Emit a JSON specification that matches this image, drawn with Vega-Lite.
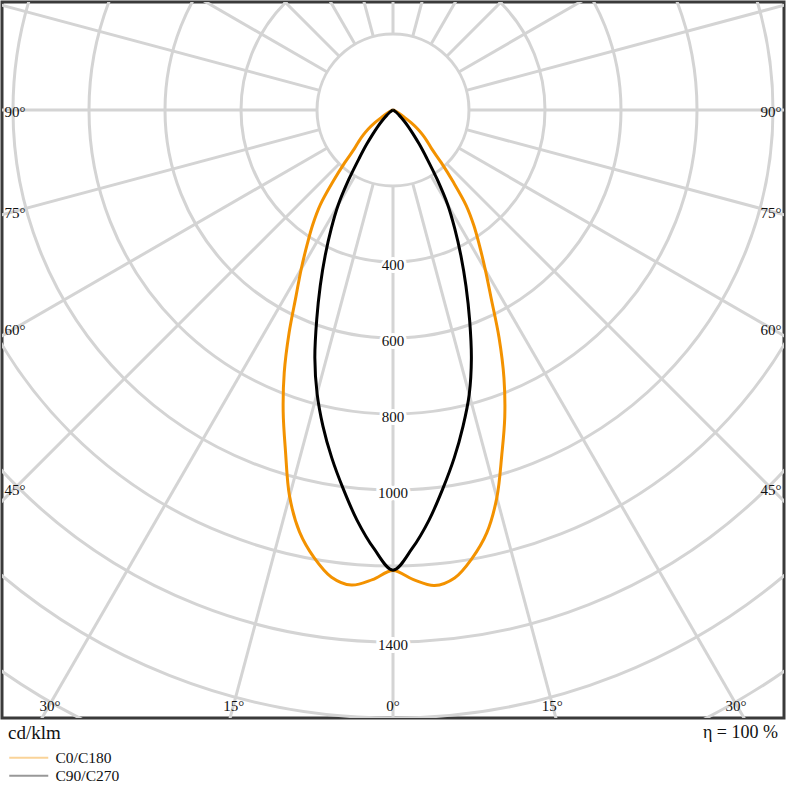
{
  "$schema": "https://vega.github.io/schema/vega-lite/v6.json",
  "width": 782,
  "height": 716,
  "autosize": {"type": "none"},
  "padding": {"left": 2, "top": 2, "right": 6, "bottom": 82},
  "background": "white",
  "config": {
    "view": {"stroke": "#3a3a3a", "strokeWidth": 3},
    "font": "Liberation Serif"
  },
  "datasets": {
    "rings": [{"r": 200}, {"r": 400}, {"r": 600}, {"r": 800}, {"r": 1000}, {"r": 1200}, {"r": 1400}, {"r": 1600}, {"r": 1800}, {"r": 2000}],
    "spokes": [{"a": 0}, {"a": 15}, {"a": 30}, {"a": 45}, {"a": 60}, {"a": 75}, {"a": 90}, {"a": 105}, {"a": 120}, {"a": 135}, {"a": 150}, {"a": 165}, {"a": 180}, {"a": 195}, {"a": 210}, {"a": 225}, {"a": 240}, {"a": 255}, {"a": 270}, {"a": 285}, {"a": 300}, {"a": 315}, {"a": 330}, {"a": 345}],
    "ringLabels": [{"v": 400}, {"v": 600}, {"v": 800}, {"v": 1000}, {"v": 1400}],
    "angleLabels": [
      {"t": "90°", "a": -90}, {"t": "75°", "a": -75}, {"t": "60°", "a": -60}, {"t": "45°", "a": -45},
      {"t": "30°", "a": -30}, {"t": "15°", "a": -15}, {"t": "0°", "a": 0}, {"t": "15°", "a": 15},
      {"t": "30°", "a": 30}, {"t": "45°", "a": 45}, {"t": "60°", "a": 60}, {"t": "75°", "a": 75}, {"t": "90°", "a": 90}
    ],
    "curves": [
      {"c": "C0/C180", "a": -90, "v": 0}, {"c": "C0/C180", "a": -75, "v": 0}, {"c": "C0/C180", "a": -70, "v": 3},
      {"c": "C0/C180", "a": -65, "v": 8}, {"c": "C0/C180", "a": -60, "v": 20}, {"c": "C0/C180", "a": -57.5, "v": 33},
      {"c": "C0/C180", "a": -55, "v": 58}, {"c": "C0/C180", "a": -52.5, "v": 82}, {"c": "C0/C180", "a": -50, "v": 102},
      {"c": "C0/C180", "a": -47.5, "v": 122}, {"c": "C0/C180", "a": -45, "v": 143}, {"c": "C0/C180", "a": -42.5, "v": 188},
      {"c": "C0/C180", "a": -40, "v": 245}, {"c": "C0/C180", "a": -37.5, "v": 314}, {"c": "C0/C180", "a": -35, "v": 368},
      {"c": "C0/C180", "a": -32.5, "v": 421}, {"c": "C0/C180", "a": -30, "v": 483}, {"c": "C0/C180", "a": -27.5, "v": 553},
      {"c": "C0/C180", "a": -25, "v": 647}, {"c": "C0/C180", "a": -22.5, "v": 748}, {"c": "C0/C180", "a": -20, "v": 845},
      {"c": "C0/C180", "a": -17.5, "v": 941}, {"c": "C0/C180", "a": -15, "v": 1052}, {"c": "C0/C180", "a": -12.5, "v": 1137},
      {"c": "C0/C180", "a": -10, "v": 1196}, {"c": "C0/C180", "a": -7.5, "v": 1240}, {"c": "C0/C180", "a": -5, "v": 1255},
      {"c": "C0/C180", "a": -2.5, "v": 1237}, {"c": "C0/C180", "a": 0, "v": 1212}, {"c": "C0/C180", "a": 2.5, "v": 1237},
      {"c": "C0/C180", "a": 5, "v": 1256}, {"c": "C0/C180", "a": 7.5, "v": 1242}, {"c": "C0/C180", "a": 10, "v": 1198},
      {"c": "C0/C180", "a": 12.5, "v": 1140}, {"c": "C0/C180", "a": 15, "v": 1056}, {"c": "C0/C180", "a": 17.5, "v": 952},
      {"c": "C0/C180", "a": 20, "v": 860}, {"c": "C0/C180", "a": 22.5, "v": 763}, {"c": "C0/C180", "a": 25, "v": 660},
      {"c": "C0/C180", "a": 27.5, "v": 560}, {"c": "C0/C180", "a": 30, "v": 486}, {"c": "C0/C180", "a": 32.5, "v": 424},
      {"c": "C0/C180", "a": 35, "v": 371}, {"c": "C0/C180", "a": 37.5, "v": 316}, {"c": "C0/C180", "a": 40, "v": 245},
      {"c": "C0/C180", "a": 42.5, "v": 188}, {"c": "C0/C180", "a": 45, "v": 143}, {"c": "C0/C180", "a": 47.5, "v": 122},
      {"c": "C0/C180", "a": 50, "v": 102}, {"c": "C0/C180", "a": 52.5, "v": 82}, {"c": "C0/C180", "a": 55, "v": 58},
      {"c": "C0/C180", "a": 57.5, "v": 33}, {"c": "C0/C180", "a": 60, "v": 20}, {"c": "C0/C180", "a": 65, "v": 8},
      {"c": "C0/C180", "a": 70, "v": 3}, {"c": "C0/C180", "a": 75, "v": 0}, {"c": "C0/C180", "a": 90, "v": 0},

      {"c": "C90/C270", "a": -90, "v": 0}, {"c": "C90/C270", "a": -75, "v": 0}, {"c": "C90/C270", "a": -70, "v": 0},
      {"c": "C90/C270", "a": -65, "v": 1}, {"c": "C90/C270", "a": -60, "v": 3}, {"c": "C90/C270", "a": -57.5, "v": 5},
      {"c": "C90/C270", "a": -55, "v": 9}, {"c": "C90/C270", "a": -52.5, "v": 14}, {"c": "C90/C270", "a": -50, "v": 20},
      {"c": "C90/C270", "a": -47.5, "v": 30}, {"c": "C90/C270", "a": -45, "v": 42}, {"c": "C90/C270", "a": -42.5, "v": 60},
      {"c": "C90/C270", "a": -40, "v": 82}, {"c": "C90/C270", "a": -37.5, "v": 114}, {"c": "C90/C270", "a": -35, "v": 155},
      {"c": "C90/C270", "a": -32.5, "v": 216}, {"c": "C90/C270", "a": -30, "v": 288}, {"c": "C90/C270", "a": -27.5, "v": 352},
      {"c": "C90/C270", "a": -25, "v": 422}, {"c": "C90/C270", "a": -22.5, "v": 500}, {"c": "C90/C270", "a": -20, "v": 587},
      {"c": "C90/C270", "a": -17.5, "v": 684}, {"c": "C90/C270", "a": -15, "v": 772}, {"c": "C90/C270", "a": -12.5, "v": 852},
      {"c": "C90/C270", "a": -10, "v": 929}, {"c": "C90/C270", "a": -7.5, "v": 1005}, {"c": "C90/C270", "a": -5, "v": 1084},
      {"c": "C90/C270", "a": -2.5, "v": 1155}, {"c": "C90/C270", "a": 0, "v": 1211}, {"c": "C90/C270", "a": 2.5, "v": 1155},
      {"c": "C90/C270", "a": 5, "v": 1084}, {"c": "C90/C270", "a": 7.5, "v": 1005}, {"c": "C90/C270", "a": 10, "v": 929},
      {"c": "C90/C270", "a": 12.5, "v": 852}, {"c": "C90/C270", "a": 15, "v": 775}, {"c": "C90/C270", "a": 17.5, "v": 686},
      {"c": "C90/C270", "a": 20, "v": 590}, {"c": "C90/C270", "a": 22.5, "v": 502}, {"c": "C90/C270", "a": 25, "v": 423},
      {"c": "C90/C270", "a": 27.5, "v": 352}, {"c": "C90/C270", "a": 30, "v": 288}, {"c": "C90/C270", "a": 32.5, "v": 216},
      {"c": "C90/C270", "a": 35, "v": 155}, {"c": "C90/C270", "a": 37.5, "v": 114}, {"c": "C90/C270", "a": 40, "v": 82},
      {"c": "C90/C270", "a": 42.5, "v": 60}, {"c": "C90/C270", "a": 45, "v": 42}, {"c": "C90/C270", "a": 47.5, "v": 30},
      {"c": "C90/C270", "a": 50, "v": 20}, {"c": "C90/C270", "a": 52.5, "v": 14}, {"c": "C90/C270", "a": 55, "v": 9},
      {"c": "C90/C270", "a": 57.5, "v": 5}, {"c": "C90/C270", "a": 60, "v": 3}, {"c": "C90/C270", "a": 65, "v": 1},
      {"c": "C90/C270", "a": 70, "v": 0}, {"c": "C90/C270", "a": 75, "v": 0}, {"c": "C90/C270", "a": 90, "v": 0}
    ]
  },
  "layer": [
    {
      "data": {"name": "rings"},
      "mark": {"type": "arc", "theta": 0, "theta2": 6.2832, "filled": false, "stroke": "#d4d4d4", "strokeWidth": 3, "clip": true},
      "encoding": {
        "x": {"datum": 0, "type": "quantitative", "scale": {"domain": [-1029, 1029], "nice": false, "zero": false}, "axis": null},
        "y": {"datum": 0, "type": "quantitative", "scale": {"domain": [-1600, 284.2], "nice": false, "zero": false}, "axis": null},
        "radius": {"field": "r", "type": "quantitative", "stack": null, "scale": {"type": "linear", "domain": [0, 1000], "range": [0, 380], "zero": true}, "legend": null}
      }
    },
    {
      "data": {"name": "spokes"},
      "transform": [
        {"calculate": "200*sin(datum.a*PI/180)", "as": "x1"},
        {"calculate": "-200*cos(datum.a*PI/180)", "as": "y1"},
        {"calculate": "2500*sin(datum.a*PI/180)", "as": "x2"},
        {"calculate": "-2500*cos(datum.a*PI/180)", "as": "y2"}
      ],
      "mark": {"type": "rule", "stroke": "#d4d4d4", "strokeWidth": 3, "clip": true},
      "encoding": {
        "x": {"field": "x1", "type": "quantitative"},
        "y": {"field": "y1", "type": "quantitative"},
        "x2": {"field": "x2"},
        "y2": {"field": "y2"}
      }
    },
    {
      "data": {"name": "ringLabels"},
      "transform": [{"calculate": "-datum.v", "as": "ny"}],
      "mark": {"type": "text", "font": "Liberation Serif", "fontSize": 15, "stroke": "white", "strokeWidth": 6, "fill": "white", "baseline": "middle", "align": "center", "dy": 3},
      "encoding": {
        "x": {"datum": 0, "type": "quantitative"},
        "y": {"field": "ny", "type": "quantitative"},
        "text": {"field": "v", "type": "nominal"}
      }
    },
    {
      "data": {"name": "ringLabels"},
      "transform": [{"calculate": "-datum.v", "as": "ny"}],
      "mark": {"type": "text", "font": "Liberation Serif", "fontSize": 15, "color": "#111111", "baseline": "middle", "align": "center", "dy": 3},
      "encoding": {
        "x": {"datum": 0, "type": "quantitative"},
        "y": {"field": "ny", "type": "quantitative"},
        "text": {"field": "v", "type": "nominal"}
      }
    },
    {
      "data": {"name": "curves"},
      "transform": [
        {"calculate": "datum.v*sin(datum.a*PI/180)", "as": "px"},
        {"calculate": "-datum.v*cos(datum.a*PI/180)", "as": "py"}
      ],
      "mark": {"type": "line", "strokeWidth": 3, "interpolate": "catmull-rom", "clip": true},
      "encoding": {
        "x": {"field": "px", "type": "quantitative"},
        "y": {"field": "py", "type": "quantitative"},
        "order": {"field": "a", "type": "quantitative"},
        "color": {
          "field": "c", "type": "nominal",
          "scale": {"domain": ["C0/C180", "C90/C270"], "range": ["#f39200", "#000000"]},
          "legend": {
            "orient": "none", "legendX": 19, "legendY": 748, "title": null,
            "symbolType": "M-3,0H3", "symbolSize": 169, "symbolStrokeWidth": 2, "symbolOpacity": 0.4,
            "labelFont": "Liberation Serif", "labelFontSize": 15.5, "labelColor": "#111111", "labelOffset": 19, "rowPadding": 1
          }
        }
      }
    },
    {
      "data": {"name": "angleLabels"},
      "transform": [
        {"calculate": "abs(datum.a) >= 45 ? (datum.a < 0 ? -995 : 995) : 1563*tan(datum.a*PI/180)", "as": "lx"},
        {"calculate": "abs(datum.a) >= 45 ? -995*cos(datum.a*PI/180)/abs(sin(datum.a*PI/180)) : -1563", "as": "ly"}
      ],
      "mark": {"type": "text", "font": "Liberation Serif", "fontSize": 15, "color": "#111111", "baseline": "middle", "align": "center", "dy": 2},
      "encoding": {
        "x": {"field": "lx", "type": "quantitative"},
        "y": {"field": "ly", "type": "quantitative"},
        "text": {"field": "t", "type": "nominal"}
      }
    },
    {
      "data": {"values": [{"t": "cd/klm"}]},
      "mark": {"type": "text", "font": "Liberation Serif", "fontSize": 19, "color": "#111111", "baseline": "middle", "align": "left", "dx": 6, "dy": 15},
      "encoding": {
        "x": {"datum": -1029, "type": "quantitative"},
        "y": {"datum": -1600, "type": "quantitative"},
        "text": {"field": "t", "type": "nominal"}
      }
    },
    {
      "data": {"values": [{"t": "η = 100 %"}]},
      "mark": {"type": "text", "font": "Liberation Serif", "fontSize": 18, "color": "#111111", "baseline": "middle", "align": "right", "dx": -6, "dy": 15},
      "encoding": {
        "x": {"datum": 1029, "type": "quantitative"},
        "y": {"datum": -1600, "type": "quantitative"},
        "text": {"field": "t", "type": "nominal"}
      }
    }
  ]
}
